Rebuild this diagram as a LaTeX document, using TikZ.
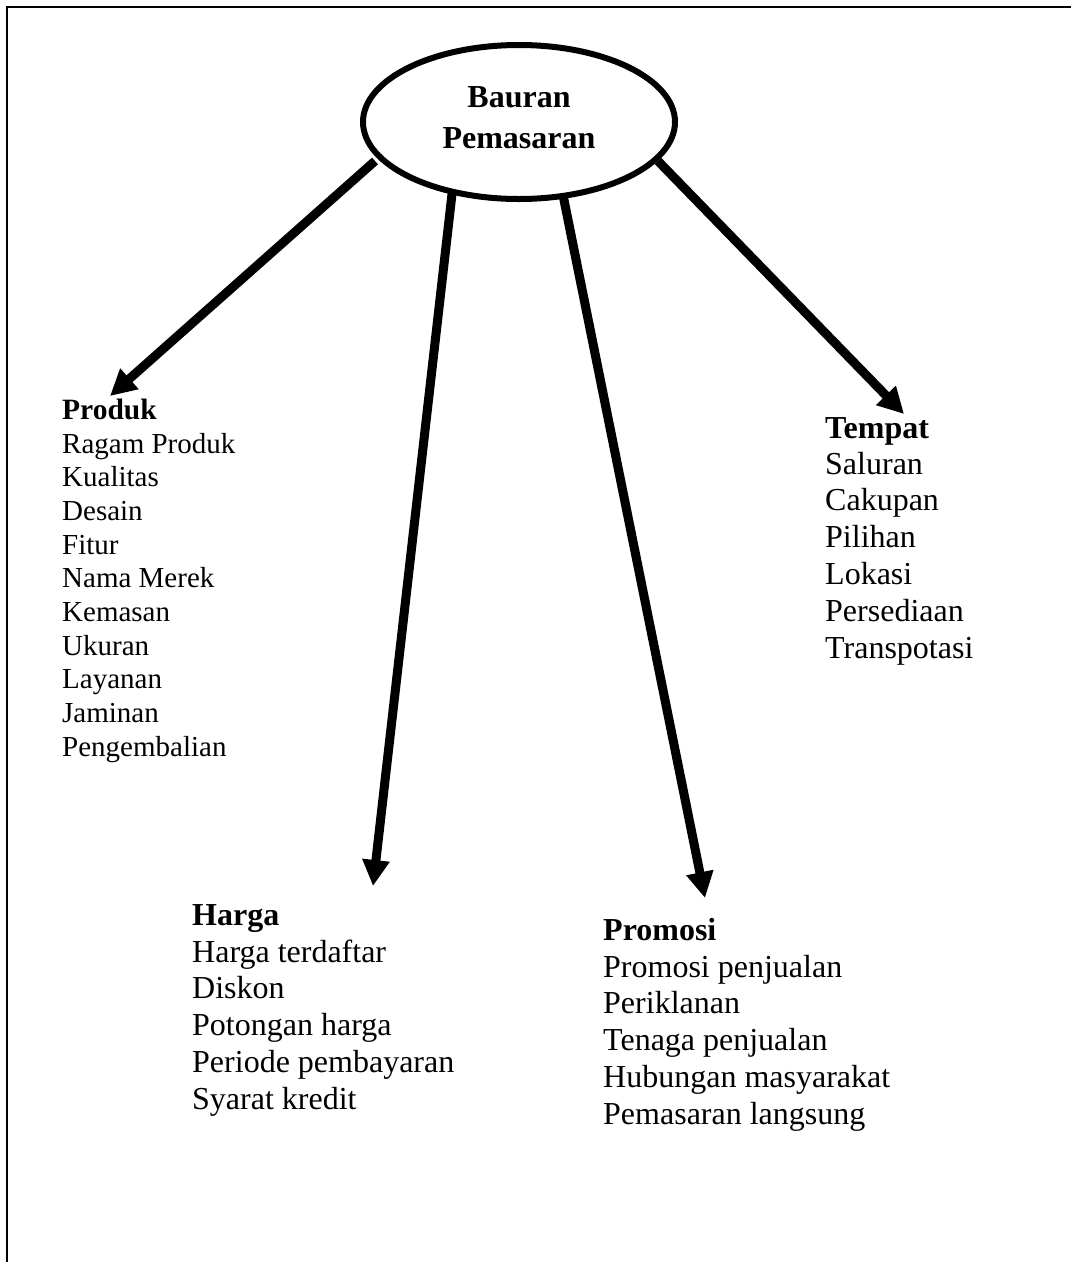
\documentclass[tikz,border=0pt]{standalone}
\usepackage{fontspec}
\setmainfont{Liberation Serif}
\usetikzlibrary{shapes.geometric,arrows.meta}
\tikzset{
  frame/.style={line width=2pt},
  hub/.style={ellipse,draw,fill=white,line width=6pt,minimum width=312pt,minimum height=154pt,inner sep=0pt},
  hubtext/.style={anchor=base,inner sep=0pt,font=\fontsize{32}{41}\selectfont\bfseries},
  bigarrow/.style={line width=9pt,-{Triangle[length=26pt,width=26pt]}},
  headbig/.style={anchor=base west,inner sep=0pt,font=\fontsize{32}{37}\selectfont\bfseries},
  itembig/.style={anchor=base west,inner sep=0pt,font=\fontsize{32}{37}\selectfont},
  headsmall/.style={anchor=base west,inner sep=0pt,font=\fontsize{29.5}{34}\selectfont\bfseries},
  itemsmall/.style={anchor=base west,inner sep=0pt,font=\fontsize{29}{34}\selectfont},
}
\begin{document}
\begin{tikzpicture}[x=1pt,y=-1pt]
\useasboundingbox (0,0) rectangle (1071,1262);
% frame (top and left edges only)
\coordinate (fa) at (6.5,1262);
\coordinate (fb) at (6.5,7);
\coordinate (fc) at (1071,7);
\draw[frame] (fa) -- (fb) -- (fc);

% arrow start points on the ellipse, and tips
\coordinate (sP) at (375,161);
\coordinate (sH) at (452,194);
\coordinate (sR) at (563,195);
\coordinate (sT) at (658,161);
\coordinate (tP) at (110,396);
\coordinate (tH) at (373,886);
\coordinate (tR) at (705,898);
\coordinate (tT) at (904,414);

\draw[bigarrow] (sP) -- (tP);
\draw[bigarrow] (sH) -- (tH);
\draw[bigarrow] (sR) -- (tR);
\draw[bigarrow] (sT) -- (tT);

\node[hub] (hub) at (519,122) {};
\node[hubtext] (hub1) at (519,107) {Bauran};
\node[hubtext] (hub2) at (519,148) {Pemasaran};

% Produk
\node[headsmall] (produk) at (62,419) {Produk};
\foreach \t [count=\i from 0] in {Ragam Produk,Kualitas,Desain,Fitur,Nama Merek,Kemasan,Ukuran,Layanan,Jaminan,Pengembalian}
  \node[itemsmall] (produk\i) at (62,453+\i*33.7) {\t};

% Harga
\node[headbig] (harga) at (192,925) {Harga};
\foreach \t [count=\i from 0] in {Harga terdaftar,Diskon,Potongan harga,Periode pembayaran,Syarat kredit}
  \node[itembig] (harga\i) at (192,962+\i*36.8) {\t};

% Promosi
\node[headbig] (promosi) at (603,940) {Promosi};
\foreach \t [count=\i from 0] in {Promosi penjualan,Periklanan,Tenaga penjualan,Hubungan masyarakat,Pemasaran langsung}
  \node[itembig] (promosi\i) at (603,977+\i*36.8) {\t};

% Tempat
\node[headbig] (tempat) at (825,438) {Tempat};
\foreach \t [count=\i from 0] in {Saluran,Cakupan,Pilihan,Lokasi,Persediaan,Transpotasi}
  \node[itembig] (tempat\i) at (825,474+\i*36.8) {\t};
\end{tikzpicture}
\end{document}
